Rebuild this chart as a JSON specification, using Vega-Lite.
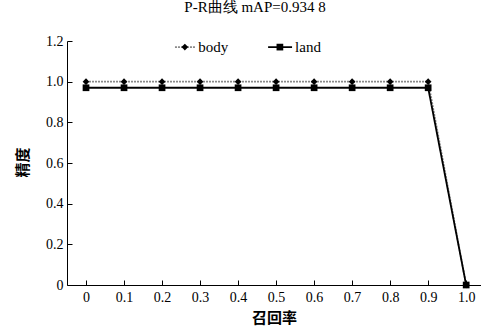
{
  "$schema": "https://vega.github.io/schema/vega-lite/v6.json",
  "autosize": {"type": "none"},
  "padding": {"left": 67, "top": 41, "right": 0, "bottom": 46},
  "width": 414,
  "height": 244,
  "title": {
    "text": "P-R曲线  mAP=0.934 8",
    "font": "Liberation Serif, serif",
    "fontSize": 15,
    "fontWeight": "normal",
    "color": "#000",
    "anchor": "middle",
    "dx": -19,
    "offset": 19
  },
  "datasets": {
    "pr": [
      {"recall": 0, "precision": 1.0, "series": "body"},
      {"recall": 0.1, "precision": 1.0, "series": "body"},
      {"recall": 0.2, "precision": 1.0, "series": "body"},
      {"recall": 0.3, "precision": 1.0, "series": "body"},
      {"recall": 0.4, "precision": 1.0, "series": "body"},
      {"recall": 0.5, "precision": 1.0, "series": "body"},
      {"recall": 0.6, "precision": 1.0, "series": "body"},
      {"recall": 0.7, "precision": 1.0, "series": "body"},
      {"recall": 0.8, "precision": 1.0, "series": "body"},
      {"recall": 0.9, "precision": 1.0, "series": "body"},
      {"recall": 1.0, "precision": 0, "series": "body"},
      {"recall": 0, "precision": 0.97, "series": "land"},
      {"recall": 0.1, "precision": 0.97, "series": "land"},
      {"recall": 0.2, "precision": 0.97, "series": "land"},
      {"recall": 0.3, "precision": 0.97, "series": "land"},
      {"recall": 0.4, "precision": 0.97, "series": "land"},
      {"recall": 0.5, "precision": 0.97, "series": "land"},
      {"recall": 0.6, "precision": 0.97, "series": "land"},
      {"recall": 0.7, "precision": 0.97, "series": "land"},
      {"recall": 0.8, "precision": 0.97, "series": "land"},
      {"recall": 0.9, "precision": 0.97, "series": "land"},
      {"recall": 1.0, "precision": 0, "series": "land"}
    ],
    "legend": [
      {"label": "body", "x1": 0.234, "x2": 0.287, "xm": 0.26, "xt": 0.295, "y": 1.17},
      {"label": "land", "x1": 0.479, "x2": 0.542, "xm": 0.51, "xt": 0.55, "y": 1.17}
    ]
  },
  "layer": [
    {
      "data": {"name": "pr"},
      "mark": {"type": "line", "strokeWidth": 1.8},
      "encoding": {
        "x": {
          "field": "recall", "type": "quantitative",
          "scale": {"domain": [-0.05, 1.039], "nice": false, "zero": false},
          "axis": {
            "title": "召回率",
            "values": [0, 0.1, 0.2, 0.3, 0.4, 0.5, 0.6, 0.7, 0.8, 0.9, 1.0],
            "labelExpr": "datum.value == 0 ? '0' : format(datum.value, '.1f')",
            "grid": false,
            "domainColor": "#000",
            "tickColor": "#000",
            "tickSize": -5,
            "labelPadding": 10,
            "labelFont": "Liberation Serif, serif",
            "labelFontSize": 14,
            "labelColor": "#000",
            "titleFont": "Noto Sans CJK SC",
            "titleFontSize": 15,
            "titleFontWeight": "bold",
            "titleColor": "#000",
            "titlePadding": 6
          }
        },
        "y": {
          "field": "precision", "type": "quantitative",
          "scale": {"domain": [0, 1.2], "nice": false},
          "axis": {
            "title": "精度",
            "titleAlign": "center",
            "titleBaseline": "middle",
            "titleX": -45,
            "titleY": 121,
            "values": [0, 0.2, 0.4, 0.6, 0.8, 1.0, 1.2],
            "labelExpr": "datum.value == 0 ? '0' : format(datum.value, '.1f')",
            "grid": false,
            "domainColor": "#000",
            "tickColor": "#000",
            "tickSize": -5,
            "labelPadding": 9,
            "labelFont": "Liberation Serif, serif",
            "labelFontSize": 14,
            "labelColor": "#000",
            "titleFont": "Noto Sans CJK SC",
            "titleFontSize": 15,
            "titleFontWeight": "bold",
            "titleColor": "#000"
          }
        },
        "color": {"field": "series", "type": "nominal", "scale": {"domain": ["body", "land"], "range": ["#8a8a8a", "#000000"]}, "legend": null},
        "strokeDash": {"field": "series", "type": "nominal", "scale": {"domain": ["body", "land"], "range": [[2, 1], [1, 0]]}, "legend": null}
      }
    },
    {
      "data": {"name": "pr"},
      "transform": [{"filter": "datum.series == 'body'"}],
      "mark": {"type": "point", "shape": "diamond", "filled": true, "color": "#000", "size": 45, "opacity": 1},
      "encoding": {
        "x": {"field": "recall", "type": "quantitative"},
        "y": {"field": "precision", "type": "quantitative"}
      }
    },
    {
      "data": {"name": "pr"},
      "transform": [{"filter": "datum.series == 'land'"}],
      "mark": {"type": "point", "shape": "square", "filled": true, "color": "#000", "size": 45, "opacity": 1},
      "encoding": {
        "x": {"field": "recall", "type": "quantitative"},
        "y": {"field": "precision", "type": "quantitative"}
      }
    },
    {
      "data": {"name": "legend"},
      "mark": {"type": "rule", "strokeWidth": 1.8},
      "encoding": {
        "x": {"field": "x1", "type": "quantitative"},
        "x2": {"field": "x2"},
        "y": {"field": "y", "type": "quantitative"},
        "color": {"field": "label", "type": "nominal", "legend": null},
        "strokeDash": {"field": "label", "type": "nominal", "legend": null}
      }
    },
    {
      "data": {"name": "legend"},
      "mark": {"type": "point", "filled": true, "color": "#000", "size": 45, "opacity": 1},
      "encoding": {
        "x": {"field": "xm", "type": "quantitative"},
        "y": {"field": "y", "type": "quantitative"},
        "shape": {"field": "label", "type": "nominal", "scale": {"domain": ["body", "land"], "range": ["diamond", "square"]}, "legend": null}
      }
    },
    {
      "data": {"name": "legend"},
      "mark": {"type": "text", "align": "left", "baseline": "middle", "font": "Liberation Serif, serif", "fontSize": 15, "color": "#000"},
      "encoding": {
        "x": {"field": "xt", "type": "quantitative"},
        "y": {"field": "y", "type": "quantitative"},
        "text": {"field": "label"}
      }
    }
  ],
  "config": {"view": {"stroke": null}}
}
